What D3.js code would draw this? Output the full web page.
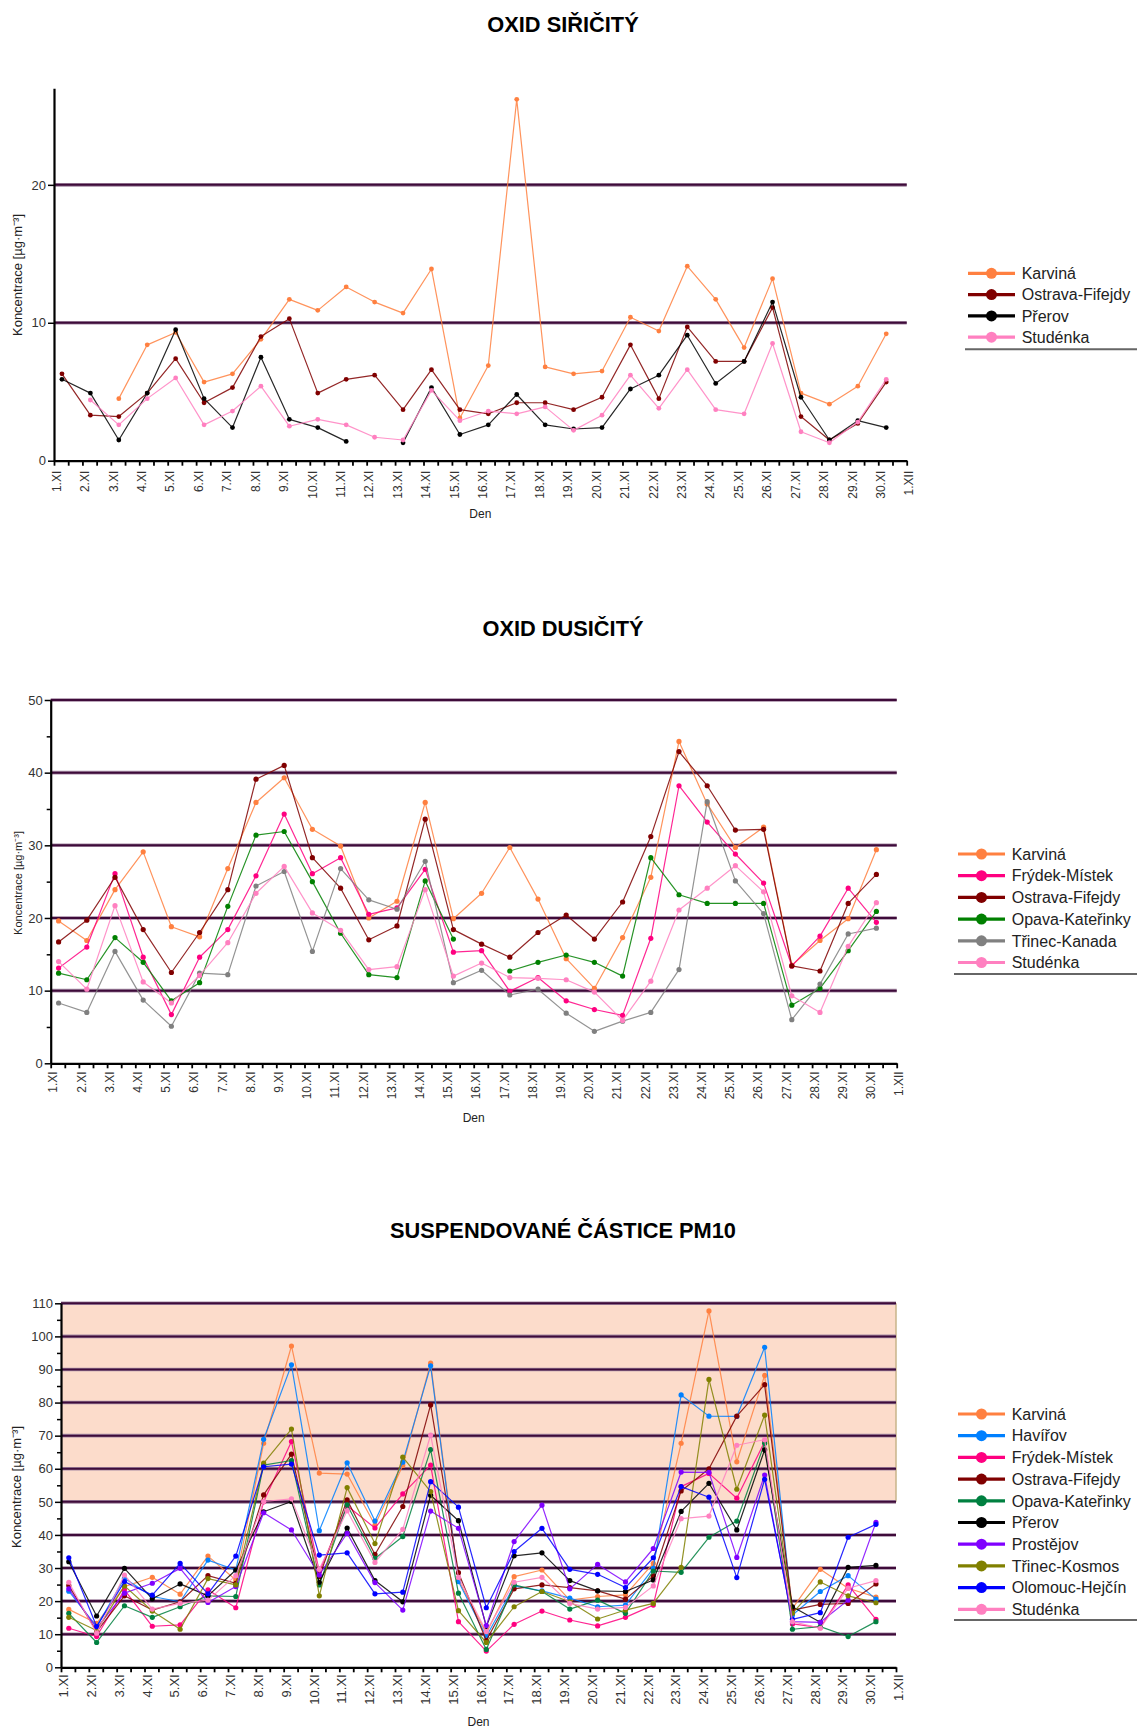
<!DOCTYPE html>
<html>
<head>
<meta charset="utf-8">
<script src="https://cdn.jsdelivr.net/npm/d3@7"></script>
<style>
  body { margin: 0; background: #fff; }
  text { font-family: "Liberation Sans", Arial, sans-serif; }
</style>
</head>
<body>
<svg id="chart" width="1137" height="1728"></svg>
<script>
// Days of November; each daily value sits a quarter-day after its date tick.
const dayLabels = d3.range(1, 31).map(d => d + ".XI").concat(["1.XII"]);
const pointOffset = 0.28;

// ---- Oxid siřičitý (SO2) ----
const so2Stations = ["Karviná", "Ostrava-Fifejdy", "Přerov", "Studénka"];
const so2Karvina  = [null, null, 4.5, 8.4, 9.3, 5.7, 6.3, 8.8, 11.7, 10.9, 12.6, 11.5, 10.7, 13.9, 3.1, 6.9, 26.2, 6.8, 6.3, 6.5, 10.4, 9.4, 14.1, 11.7, 8.2, 13.2, 4.9, 4.1, 5.4, 9.2];
const so2Ostrava  = [6.3, 3.3, 3.2, 4.9, 7.4, 4.2, 5.3, 9.0, 10.3, 4.9, 5.9, 6.2, 3.7, 6.6, 3.7, 3.4, 4.2, 4.2, 3.7, 4.6, 8.4, 4.5, 9.7, 7.2, 7.2, 11.1, 3.2, 1.5, 2.7, 5.7];
const so2Prerov   = [5.9, 4.9, 1.5, 4.9, 9.5, 4.5, 2.4, 7.5, 3.0, 2.4, 1.4, null, 1.3, 5.3, 1.9, 2.6, 4.8, 2.6, 2.3, 2.4, 5.2, 6.2, 9.1, 5.6, 7.2, 11.5, 4.6, 1.5, 2.9, 2.4];
const so2Studenka = [null, 4.4, 2.6, 4.5, 6.0, 2.6, 3.6, 5.4, 2.5, 3.0, 2.6, 1.7, 1.5, 5.1, 2.9, 3.6, 3.4, 3.9, 2.2, 3.3, 6.2, 3.8, 6.6, 3.7, 3.4, 8.5, 2.1, 1.3, 2.8, 5.9];
const so2Ticks = [0, 10, 20];

// ---- Oxid dusičitý (NO2) ----
const no2Stations = ["Karviná", "Frýdek-Místek", "Ostrava-Fifejdy", "Opava-Kateřinky", "Třinec-Kanada", "Studénka"];
const no2Karvina  = [19.6, 16.9, 23.9, 29.1, 18.8, 17.4, 26.8, 35.9, 39.3, 32.2, 29.9, 20.0, 22.3, 35.9, 19.9, 23.4, 29.7, 22.6, 14.4, 10.3, 17.3, 25.6, 44.3, 35.7, 29.7, 32.5, 13.5, 16.9, 19.9, 29.4];
const no2Frydek   = [13.1, 16.0, 26.1, 14.6, 6.7, 14.6, 18.4, 25.8, 34.3, 26.1, 28.3, 20.5, 21.4, 26.7, 15.3, 15.5, 9.9, 11.8, 8.6, 7.4, 6.6, 17.2, 38.2, 33.2, 28.8, 24.8, 13.4, 17.5, 24.1, 19.4];
const no2Ostrava  = [16.7, 19.7, 25.6, 18.4, 12.5, 18.0, 23.9, 39.1, 41.0, 28.3, 24.1, 17.0, 18.9, 33.6, 18.4, 16.4, 14.6, 18.0, 20.4, 17.1, 22.2, 31.2, 42.9, 38.2, 32.1, 32.2, 13.4, 12.7, 22.0, 26.0];
const no2Opava    = [12.4, 11.5, 17.3, 13.9, 8.6, 11.1, 21.6, 31.4, 31.9, 25.0, 17.9, 12.2, 11.8, 25.1, 17.1, null, 12.7, 13.9, 14.9, 13.9, 12.0, 28.3, 23.2, 22.0, 22.0, 22.0, 8.0, 10.3, 15.5, 20.9];
const no2Trinec   = [8.3, 7.0, 15.4, 8.7, 5.1, 12.4, 12.2, 24.4, 26.4, 15.4, 26.8, 22.5, 21.2, 27.8, 11.1, 12.8, 9.4, 10.2, 6.9, 4.4, 5.8, 7.0, 12.9, 36.0, 25.1, 20.6, 6.0, 10.9, 17.8, 18.6];
const no2Studenka = [14.0, 10.2, 21.7, 11.2, 8.3, 12.1, 16.6, 23.4, 27.1, 20.7, 18.3, 12.9, 13.3, 23.9, 12.0, 13.8, 11.8, 11.7, 11.5, 9.8, 5.9, 11.3, 21.1, 24.1, 27.2, 23.6, 9.3, 7.0, 16.1, 22.1];
const no2Ticks = [0, 10, 20, 30, 40, 50];

// ---- Suspendované částice PM10 ----
const pmStations = ["Karviná", "Havířov", "Frýdek-Místek", "Ostrava-Fifejdy", "Opava-Kateřinky", "Přerov", "Prostějov", "Třinec-Kosmos", "Olomouc-Hejčín", "Studénka"];
const pmKarvina   = [17.5, 13.3, 24.4, 27.2, 22.1, 33.6, 26.4, 67.7, 97.1, 58.7, 58.4, 43.0, 61.0, 91.9, 26.4, 10.3, 27.4, 29.4, 20.3, 21.4, 21.9, 31.4, 67.7, 107.7, 62.1, 88.2, 17.8, 29.6, 23.9, 21.2];
const pmHavirov   = [23.0, 12.3, 26.9, 21.4, 19.8, 32.4, 29.4, 68.9, 91.4, 41.3, 61.8, 44.2, 62.0, 91.1, 25.9, 9.3, 24.6, 23.1, 20.9, 18.3, 18.8, 29.9, 82.3, 75.9, 75.8, 96.7, 15.8, 22.9, 27.7, 20.6];
const pmFrydek    = [11.8, 9.3, 23.4, 12.4, 12.8, 23.4, 18.0, 50.0, 68.2, 28.9, 48.8, 42.1, 52.4, 61.1, 13.8, 4.9, 13.0, 17.0, 14.3, 12.5, 15.1, 18.8, 54.6, 58.6, 51.1, 68.2, 13.1, 12.0, 24.9, 14.5];
const pmOstrava   = [24.7, 10.8, 21.6, 17.3, 19.8, 27.7, 25.4, 52.1, 64.4, 27.4, 50.6, 34.1, 48.6, 79.3, 28.6, 8.1, 23.7, 24.9, 24.1, 23.1, 20.6, 27.6, 53.3, 60.0, 75.9, 85.4, 17.3, 19.0, 19.3, 25.2];
const pmOpava     = [16.3, 7.5, 18.6, 15.1, 18.3, 21.6, 21.4, 61.1, 62.5, 24.9, 49.1, 32.9, 39.5, 65.8, 22.4, 5.4, 24.9, 22.9, 17.6, 20.3, 16.3, 29.1, 28.7, 39.3, 44.2, 67.7, 11.5, 12.3, 9.3, 13.8];
const pmPrerov    = [31.9, 15.5, 29.9, 20.7, 25.2, 21.6, 29.4, 47.0, 50.1, 25.7, 42.1, 26.2, 19.8, 52.0, 44.3, 12.3, 33.7, 34.6, 26.2, 23.1, 22.9, 26.4, 47.1, 55.6, 41.5, 65.7, 18.3, 13.6, 30.2, 30.8];
const pmProstejov = [23.7, 11.8, 22.4, 25.4, 29.9, 19.6, 24.4, 46.7, 41.5, 27.9, 40.5, 25.6, 17.3, 47.2, 42.0, 12.6, 38.0, 49.0, 23.7, 31.1, 25.8, 35.9, 59.0, 58.9, 33.2, 58.1, 13.8, 13.6, 20.3, 43.8];
const pmTrinec    = [15.1, 11.1, 24.6, 17.0, 11.5, 26.8, 24.9, 61.7, 72.0, 21.6, 54.3, 37.4, 63.5, 53.1, 17.1, 7.5, 18.3, 22.9, 19.8, 14.6, 17.3, 19.3, 30.2, 87.0, 53.8, 76.2, 16.3, 25.8, 21.6, 19.5];
const pmOlomouc   = [33.1, 12.3, 25.9, 21.8, 31.4, 22.2, 33.6, 60.6, 61.4, 33.9, 34.6, 22.2, 22.7, 56.1, 48.4, 18.0, 35.0, 42.0, 29.6, 28.1, 24.1, 33.1, 54.6, 51.4, 27.1, 56.8, 14.5, 16.5, 39.3, 43.2];
const pmStudenka  = [25.7, 10.3, 27.9, 17.6, 19.3, 20.3, 27.7, 50.1, 50.9, 29.6, 47.3, 31.7, 41.7, 70.2, 27.2, 10.8, 25.7, 27.2, 19.3, 17.6, 18.1, 24.6, 44.9, 45.7, 67.1, 68.8, 13.8, 11.8, 23.9, 26.2];
const pmTicks = [0, 10, 20, 30, 40, 50, 60, 70, 80, 90, 100, 110];
const pmLimitBand = [50, 110];

// Station colours
const stationColor = {
  "Karviná": "#ff8040",
  "Havířov": "#0080ff",
  "Frýdek-Místek": "#ff0080",
  "Ostrava-Fifejdy": "#800000",
  "Opava-Kateřinky": "#008000",
  "Přerov": "#000000",
  "Prostějov": "#8000ff",
  "Třinec-Kanada": "#808080",
  "Třinec-Kosmos": "#808000",
  "Olomouc-Hejčín": "#0000ff",
  "Studénka": "#ff80c0"
};
const pmOpavaColor = "#008040";

const svg = d3.select("#chart");
svg.append("rect").attr("width", 1137).attr("height", 1728).attr("fill", "#fff");

function drawPanel(p) {
  const x = d3.scaleLinear().domain([0, 30]).range([p.x0, p.x1]);
  const y = d3.scaleLinear().domain([0, p.yMax]).range([p.yBottom, p.yTop]);
  const g = svg.append("g");

  g.append("text")
    .attr("x", 563).attr("y", p.titleY)
    .attr("text-anchor", "middle")
    .attr("font-weight", "bold").attr("font-size", 21.8).attr("fill", "#000")
    .text(p.title);

  if (p.band) {
    g.append("rect")
      .attr("x", p.x0).attr("y", y(p.band[1]))
      .attr("width", p.x1 - p.x0).attr("height", y(p.band[0]) - y(p.band[1]))
      .attr("fill", "#fcdccb");
    g.append("line")
      .attr("x1", p.x1).attr("x2", p.x1)
      .attr("y1", y(p.band[1])).attr("y2", y(p.band[0]))
      .attr("stroke", "#c9b48a").attr("stroke-width", 1.5);
  }

  // horizontal reference lines
  const gl = p.yTicks.filter(v => v > 0);
  g.selectAll(null).data(gl).join("line")
    .attr("x1", p.x0).attr("x2", p.x1)
    .attr("y1", d => y(d)).attr("y2", d => y(d))
    .attr("stroke", "#a58aa3").attr("stroke-width", 3.6);
  g.selectAll(null).data(gl).join("line")
    .attr("x1", p.x0).attr("x2", p.x1)
    .attr("y1", d => y(d)).attr("y2", d => y(d))
    .attr("stroke", "#3e0b3a").attr("stroke-width", 2);

  // series
  p.series.forEach(s => {
    const pts = s.values.map((v, i) => ({ t: i + pointOffset, v }));
    const line = d3.line().defined(d => d.v != null).x(d => x(d.t)).y(d => y(d.v));
    g.append("path")
      .attr("d", line(pts))
      .attr("fill", "none")
      .attr("stroke", s.color).attr("stroke-width", 1.2).attr("stroke-opacity", 0.85)
      .attr("stroke-linejoin", "round");
    g.selectAll(null).data(pts.filter(d => d.v != null)).join("circle")
      .attr("cx", d => x(d.t)).attr("cy", d => y(d.v))
      .attr("r", p.markerR).attr("fill", s.color);
  });

  // x axis
  const xAxis = d3.axisBottom(x)
    .tickValues(d3.range(0, 31))
    .tickSize(5).tickSizeOuter(0)
    .tickFormat(i => dayLabels[i]);
  const xg = g.append("g").attr("transform", `translate(0,${p.yBottom})`).call(xAxis);
  xg.select(".domain").attr("stroke", "#000").attr("stroke-width", 2.2);
  xg.selectAll(".tick line").attr("stroke", "#000").attr("stroke-width", 1.8);
  xg.selectAll(".tick text")
    .attr("transform", "rotate(-90)")
    .attr("text-anchor", "end")
    .attr("x", -p.xLabelGap).attr("y", 2).attr("dy", "0.35em")
    .attr("font-size", p.xFont).attr("fill", "#333")
    .attr("font-family", "'Liberation Sans', Arial, sans-serif");
  const xMinor = d3.axisBottom(x).tickValues(d3.range(0.5, 30, 1)).tickSize(5).tickSizeOuter(0).tickFormat("");
  const xmg = g.append("g").attr("transform", `translate(0,${p.yBottom})`).call(xMinor);
  xmg.select(".domain").remove();
  xmg.selectAll(".tick line").attr("stroke", "#000").attr("stroke-width", 1.8);

  // y axis
  const yAxis = d3.axisLeft(y).tickValues(p.yTicks).tickSize(6).tickSizeOuter(0).tickFormat(d3.format("d"));
  const yg = g.append("g").attr("transform", `translate(${p.x0},0)`).call(yAxis);
  yg.select(".domain").attr("stroke", "#000").attr("stroke-width", 2.2);
  yg.selectAll(".tick line").attr("stroke", "#000").attr("stroke-width", 1.5);
  yg.selectAll(".tick text")
    .attr("font-size", 13).attr("fill", "#333")
    .attr("x", -8)
    .attr("font-family", "'Liberation Sans', Arial, sans-serif");
  if (p.yMinor) {
    const ymA = d3.axisLeft(y).tickValues(p.yMinor).tickSize(4).tickSizeOuter(0).tickFormat("");
    const ymg = g.append("g").attr("transform", `translate(${p.x0},0)`).call(ymA);
    ymg.select(".domain").remove();
    ymg.selectAll(".tick line").attr("stroke", "#000").attr("stroke-width", 1.5);
  }

  // axis titles
  g.append("text")
    .attr("transform", `translate(${p.yTitleX},${p.yTitleY}) rotate(-90)`)
    .attr("text-anchor", "middle").attr("dy", "0.35em")
    .attr("font-size", p.yTitleFont).attr("fill", "#222")
    .text("Koncentrace [µg·m⁻³]");
  g.append("text")
    .attr("x", (p.x0 + p.x1) / 2).attr("y", p.denY)
    .attr("text-anchor", "middle").attr("dy", "0.35em")
    .attr("font-size", 12).attr("fill", "#222")
    .text("Den");

  // legend
  const lg = svg.append("g");
  const L = p.legend;
  p.series.forEach((s, i) => {
    const yy = L.y0 + i * L.step;
    lg.append("line").attr("x1", L.lineX0).attr("x2", L.lineX1)
      .attr("y1", yy).attr("y2", yy)
      .attr("stroke", s.color).attr("stroke-width", 3.2);
    lg.append("circle").attr("cx", (L.lineX0 + L.lineX1) / 2).attr("cy", yy)
      .attr("r", 5.5).attr("fill", s.color);
    lg.append("text").attr("x", L.textX).attr("y", yy).attr("dy", "0.36em")
      .attr("font-size", 16).attr("fill", "#222")
      .text(s.name);
  });
  lg.append("line").attr("x1", L.sepX0).attr("x2", 1137)
    .attr("y1", L.sepY).attr("y2", L.sepY)
    .attr("stroke", "#666").attr("stroke-width", 2);
}

drawPanel({
  title: "OXID SIŘIČITÝ", titleY: 31.5,
  x0: 54, x1: 906.7, yBottom: 460.7, yTop: 88.3, yMax: 27,
  yTicks: so2Ticks, yMinor: null, markerR: 2.4,
  xFont: 12, xLabelGap: 10,
  yTitleX: 17, yTitleY: 275, yTitleFont: 13, denY: 514,
  series: [
    { name: so2Stations[0], values: so2Karvina, color: stationColor[so2Stations[0]] },
    { name: so2Stations[1], values: so2Ostrava, color: stationColor[so2Stations[1]] },
    { name: so2Stations[2], values: so2Prerov, color: stationColor[so2Stations[2]] },
    { name: so2Stations[3], values: so2Studenka, color: stationColor[so2Stations[3]] }
  ],
  legend: { y0: 273.3, step: 21.3, lineX0: 968, lineX1: 1015, textX: 1021.7, sepY: 349.3, sepX0: 965 }
});

drawPanel({
  title: "OXID DUSIČITÝ", titleY: 635.5,
  x0: 50.7, x1: 896.7, yBottom: 1063.3, yTop: 700, yMax: 50,
  yTicks: no2Ticks, yMinor: [5, 15, 25, 35, 45], markerR: 2.6,
  xFont: 12, xLabelGap: 8,
  yTitleX: 18, yTitleY: 883, yTitleFont: 11, denY: 1118,
  series: [
    { name: no2Stations[0], values: no2Karvina, color: stationColor[no2Stations[0]] },
    { name: no2Stations[1], values: no2Frydek, color: stationColor[no2Stations[1]] },
    { name: no2Stations[2], values: no2Ostrava, color: stationColor[no2Stations[2]] },
    { name: no2Stations[3], values: no2Opava, color: stationColor[no2Stations[3]] },
    { name: no2Stations[4], values: no2Trinec, color: stationColor[no2Stations[4]] },
    { name: no2Stations[5], values: no2Studenka, color: stationColor[no2Stations[5]] }
  ],
  legend: { y0: 854, step: 21.7, lineX0: 958, lineX1: 1005, textX: 1011.7, sepY: 974, sepX0: 954 }
});

drawPanel({
  title: "SUSPENDOVANÉ ČÁSTICE PM10", titleY: 1238,
  x0: 61, x1: 896, yBottom: 1667.3, yTop: 1303.3, yMax: 110,
  yTicks: pmTicks, yMinor: d3.range(5, 110, 10), markerR: 2.6,
  xFont: 13, xLabelGap: 7, band: pmLimitBand,
  yTitleX: 16, yTitleY: 1487, yTitleFont: 13, denY: 1722,
  series: [
    { name: pmStations[0], values: pmKarvina, color: stationColor[pmStations[0]] },
    { name: pmStations[1], values: pmHavirov, color: stationColor[pmStations[1]] },
    { name: pmStations[2], values: pmFrydek, color: stationColor[pmStations[2]] },
    { name: pmStations[3], values: pmOstrava, color: stationColor[pmStations[3]] },
    { name: pmStations[4], values: pmOpava, color: pmOpavaColor },
    { name: pmStations[5], values: pmPrerov, color: stationColor[pmStations[5]] },
    { name: pmStations[6], values: pmProstejov, color: stationColor[pmStations[6]] },
    { name: pmStations[7], values: pmTrinec, color: stationColor[pmStations[7]] },
    { name: pmStations[8], values: pmOlomouc, color: stationColor[pmStations[8]] },
    { name: pmStations[9], values: pmStudenka, color: stationColor[pmStations[9]] }
  ],
  legend: { y0: 1414, step: 21.7, lineX0: 958, lineX1: 1005, textX: 1011.7, sepY: 1620, sepX0: 954 }
});
</script>
</body>
</html>
